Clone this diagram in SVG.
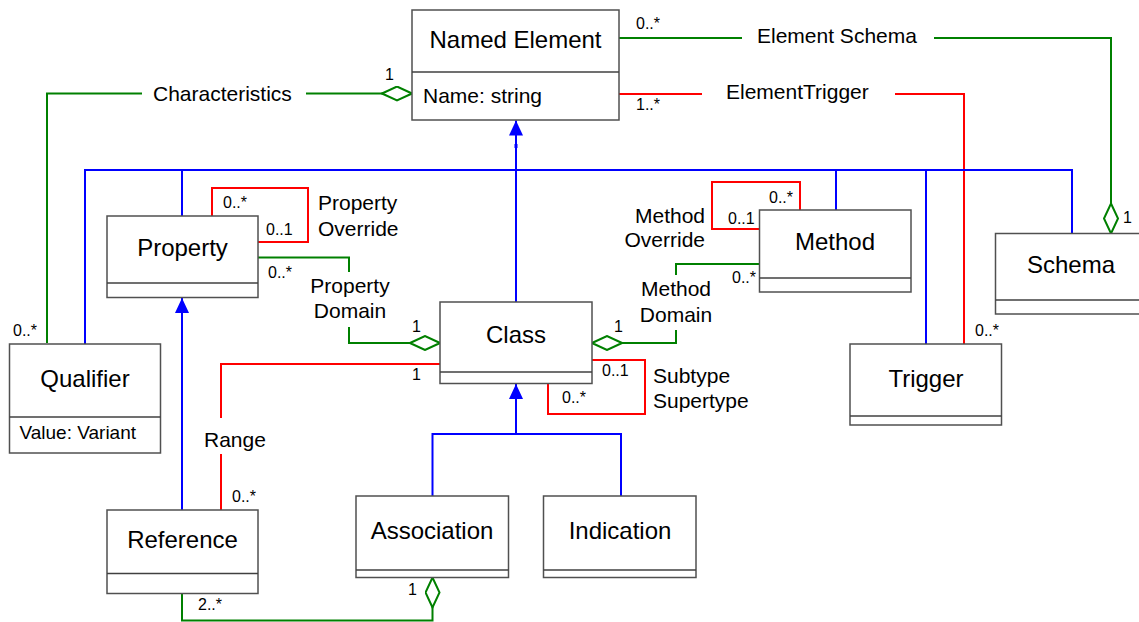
<svg xmlns="http://www.w3.org/2000/svg" width="1139" height="622" viewBox="0 0 1139 622">
<style>
.box{fill:#fff;stroke:#505050;stroke-width:1.5}
.dv{stroke:#404040;stroke-width:1.5}
text{font-family:"Liberation Sans",Arial,sans-serif;fill:#000}
.cn{font-size:24px;text-anchor:middle}
.lb{font-size:21px}
.mid{text-anchor:middle}
.end{text-anchor:end}
.m{font-size:16px}
.g{stroke:#008000;stroke-width:2;fill:none}
.r{stroke:#ff0000;stroke-width:2;fill:none}
.b{stroke:#0000ff;stroke-width:2;fill:none}
.dia{marker-end:url(#diamond)}
.arr{marker-end:url(#tri)}
</style>
<defs>
<marker id="tri" viewBox="0 0 15 14" refX="15" refY="7" markerWidth="15" markerHeight="14" orient="auto" markerUnits="userSpaceOnUse">
<path d="M0,0 L15,7 L0,14 Z" fill="#0000ff"/>
</marker>
<marker id="diamond" viewBox="-1 -1 32 16" refX="30" refY="7" markerWidth="32" markerHeight="16" orient="auto" markerUnits="userSpaceOnUse">
<path d="M0,7 L15,0 L30,7 L15,14 Z" fill="#fff" stroke="#008000" stroke-width="2"/>
</marker>
</defs>

<g id="connectors">
<!-- Characteristics -->
<path class="g" d="M47,343 L47,93.5 L142,93.5"/>
<path class="g dia" d="M306,93.5 L412,93.5"/>
<!-- Element Schema -->
<path class="g" d="M619,38 L742,38"/>
<path class="g dia" d="M934,38 L1111,38 L1111,233.5"/>
<!-- ElementTrigger -->
<path class="r" d="M619,94 L702,94"/>
<path class="r" d="M895,94 L964,94 L964,344"/>
<!-- generalization to Named Element -->
<path class="b arr" d="M516,302 L516,120.5"/>
<rect x="514.5" y="144" width="3" height="4" fill="#0000ff"/>
<path class="b" d="M85,344 L85,170 L1072,170 L1072,233.5"/>
<path class="b" d="M182,170 L182,216"/>
<path class="b" d="M836,170 L836,210"/>
<path class="b" d="M926,170 L926,344"/>
<!-- Property Override -->
<path class="r" d="M212,216 L212,188 L308,188 L308,242 L258,242"/>
<!-- Property Domain -->
<path class="g" d="M258,257.5 L349,257.5 L349,272"/>
<path class="g dia" d="M349,327 L349,343 L440,343"/>
<!-- Method Override -->
<path class="r" d="M800,210 L800,182 L712,182 L712,229 L759.5,229"/>
<!-- Method Domain -->
<path class="g" d="M759.5,264 L676,264 L676,275"/>
<path class="g dia" d="M676,330 L676,343 L592,343"/>
<!-- Range -->
<path class="r" d="M440,364 L221,364 L221,418"/>
<path class="r" d="M221,454 L221,510"/>
<!-- Subtype Supertype -->
<path class="r" d="M592,360 L645,360 L645,414 L548,414 L548,383.5"/>
<!-- generalization to Class -->
<path class="b arr" d="M516,434 L516,384"/>
<path class="b" d="M432.5,496 L432.5,434 L621,434 L621,496"/>
<!-- generalization Reference to Property -->
<path class="b arr" d="M182,510 L182,298"/>
<!-- Association aggregation -->
<path class="g dia" d="M182,593.5 L182,620.5 L432.5,620.5 L432.5,577.5"/>

<text class="lb" x="153" y="100.5">Characteristics</text>
<text class="lb" x="757" y="43">Element Schema</text>
<text class="lb" x="726" y="99">ElementTrigger</text>
<text class="lb" x="318" y="210">Property</text>
<text class="lb" x="318" y="236">Override</text>
<text class="lb mid" x="350" y="293">Property</text>
<text class="lb mid" x="350" y="318">Domain</text>
<text class="lb end" x="705" y="223">Method</text>
<text class="lb end" x="705" y="247">Override</text>
<text class="lb mid" x="676" y="296">Method</text>
<text class="lb mid" x="676" y="322">Domain</text>
<text class="lb" x="653" y="383">Subtype</text>
<text class="lb" x="653" y="408">Supertype</text>
<text class="lb" x="204" y="447">Range</text>

<text class="m" x="385" y="80">1</text>
<text class="m" x="636" y="29">0..*</text>
<text class="m" x="636" y="110">1..*</text>
<text class="m" x="1123" y="223">1</text>
<text class="m" x="975" y="336">0..*</text>
<text class="m" x="13" y="336">0..*</text>
<text class="m" x="223" y="208">0..*</text>
<text class="m" x="266" y="235">0..1</text>
<text class="m" x="268" y="278">0..*</text>
<text class="m" x="412" y="332">1</text>
<text class="m" x="412" y="380">1</text>
<text class="m" x="232" y="502">0..*</text>
<text class="m" x="614" y="332">1</text>
<text class="m" x="732" y="283">0..*</text>
<text class="m" x="769" y="203">0..*</text>
<text class="m" x="728" y="224">0..1</text>
<text class="m" x="602" y="376">0..1</text>
<text class="m" x="562" y="403">0..*</text>
<text class="m" x="408" y="595">1</text>
<text class="m" x="198" y="610">2..*</text>
</g>

<g id="named-element">
<rect class="box" x="412" y="10" width="207" height="110"/>
<line class="dv" x1="412" y1="72" x2="619" y2="72"/>
<text class="cn" x="515.5" y="48">Named Element</text>
<text class="lb" x="423" y="103">Name: string</text>
</g>
<g id="property">
<rect class="box" x="107" y="216" width="151" height="81.5"/>
<line class="dv" x1="107" y1="283" x2="258" y2="283"/>
<text class="cn" x="182.5" y="256">Property</text>
</g>
<g id="qualifier">
<rect class="box" x="9.5" y="344" width="151" height="109"/>
<line class="dv" x1="9.5" y1="417" x2="160.5" y2="417"/>
<text class="cn" x="85" y="387">Qualifier</text>
<text x="19.5" y="439" style="font-size:19px">Value: Variant</text>
</g>
<g id="class">
<rect class="box" x="440" y="302" width="152" height="81.5"/>
<line class="dv" x1="440" y1="372" x2="592" y2="372"/>
<text class="cn" x="516" y="343">Class</text>
</g>
<g id="method">
<rect class="box" x="759.5" y="210" width="151.5" height="82"/>
<line class="dv" x1="759.5" y1="278" x2="911" y2="278"/>
<text class="cn" x="835" y="250">Method</text>
</g>
<g id="schema">
<rect class="box" x="995.5" y="233.5" width="150" height="80.5"/>
<line class="dv" x1="995.5" y1="300" x2="1145" y2="300"/>
<text class="cn" x="1071" y="273">Schema</text>
</g>
<g id="trigger">
<rect class="box" x="850" y="344" width="151.5" height="81"/>
<line class="dv" x1="850" y1="416" x2="1001.5" y2="416"/>
<text class="cn" x="926" y="387">Trigger</text>
</g>
<g id="reference">
<rect class="box" x="107" y="510" width="151" height="83.5"/>
<line class="dv" x1="107" y1="573.5" x2="258" y2="573.5"/>
<text class="cn" x="182.5" y="548">Reference</text>
</g>
<g id="association">
<rect class="box" x="356" y="496" width="152.5" height="81.5"/>
<line class="dv" x1="356" y1="570" x2="508.5" y2="570"/>
<text class="cn" x="432" y="539">Association</text>
</g>
<g id="indication">
<rect class="box" x="543.5" y="496" width="152.5" height="81.5"/>
<line class="dv" x1="543.5" y1="570" x2="696" y2="570"/>
<text class="cn" x="620" y="539">Indication</text>
</g>
</svg>
